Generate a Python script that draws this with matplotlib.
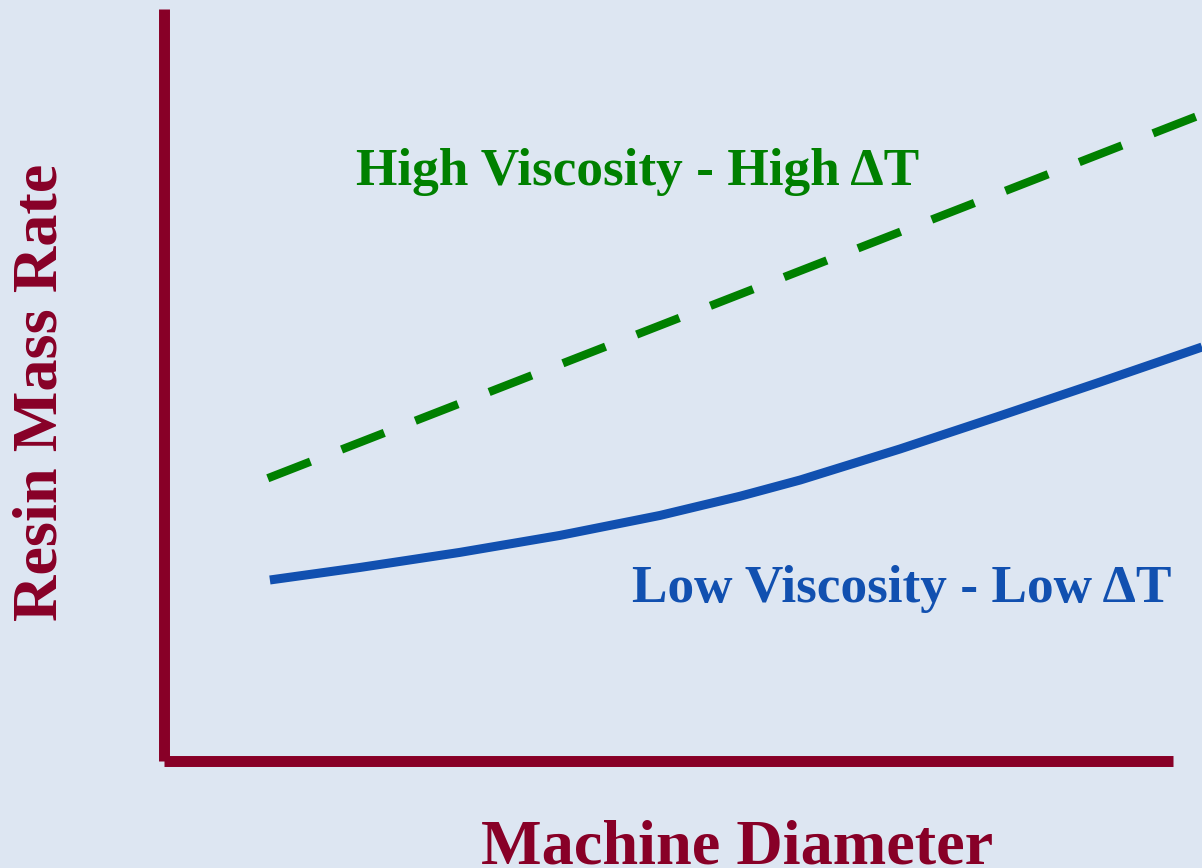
import matplotlib
matplotlib.use("Agg")
import matplotlib.pyplot as plt

# Data (arbitrary units)
high_x = [10, 55, 100]
high_y = [37.6, 61.8, 86.0]
low_x = [10.2, 18.9, 28.5, 38.15, 47.8, 55.5, 61.3, 70.9, 80.5, 90.2, 100]
low_y = [24.07, 25.74, 27.74, 30.0, 32.66, 35.21, 37.37, 41.49, 45.88, 50.4, 55.05]

high_label = "High Viscosity - High ΔT"
low_label = "Low Viscosity - Low ΔT"
x_label = "Machine Diameter"
y_label = "Resin Mass Rate"

BG = "#dde6f2"
RED = "#880027"
GREEN = "#008000"
BLUE = "#1150b0"

W, H = 1202, 868
fig = plt.figure(figsize=(W / 100, H / 100), dpi=100)
fig.patch.set_facecolor(BG)
ax = fig.add_axes([164 / W, (H - 761) / H, (1202 - 164) / W, (761 - 9) / H])
ax.set_facecolor(BG)
ax.set_xlim(0, 100)
ax.set_ylim(0, 100)

ax.plot(high_x, high_y, color=GREEN, lw=6, dashes=(5.5, 4.0), solid_capstyle="butt",
        dash_capstyle="butt", clip_on=False)
ax.plot(low_x, low_y, color=BLUE, lw=6.5, solid_capstyle="butt",
        solid_joinstyle="round", clip_on=False)

for s in ["top", "right"]:
    ax.spines[s].set_visible(False)
for s in ["left", "bottom"]:
    ax.spines[s].set_color(RED)
    ax.spines[s].set_linewidth(7.9)
    ax.spines[s].set_capstyle("butt")
ax.spines["bottom"].set_bounds(0, (1173 - 164) / 1038 * 100)
ax.set_xticks([])
ax.set_yticks([])

font = ["Liberation Serif", "DejaVu Serif"]
fig.text(638 / W, 1 - 185 / H, high_label, color=GREEN, fontsize=38.3, fontweight="bold",
         family=font, ha="center", va="baseline")
fig.text(902 / W, 1 - 602 / H, low_label, color=BLUE, fontsize=38.3, fontweight="bold",
         family=font, ha="center", va="baseline")
fig.text(737 / W, 1 - 864 / H, x_label, color=RED, fontsize=46.3, fontweight="bold",
         family=font, ha="center", va="baseline")
fig.text(57 / W, 1 - 392 / H, y_label, color=RED, fontsize=46.3, fontweight="bold",
         family=font, ha="center", va="baseline", rotation=90, rotation_mode="anchor")

fig.savefig("out.png", dpi=100, facecolor=BG)
